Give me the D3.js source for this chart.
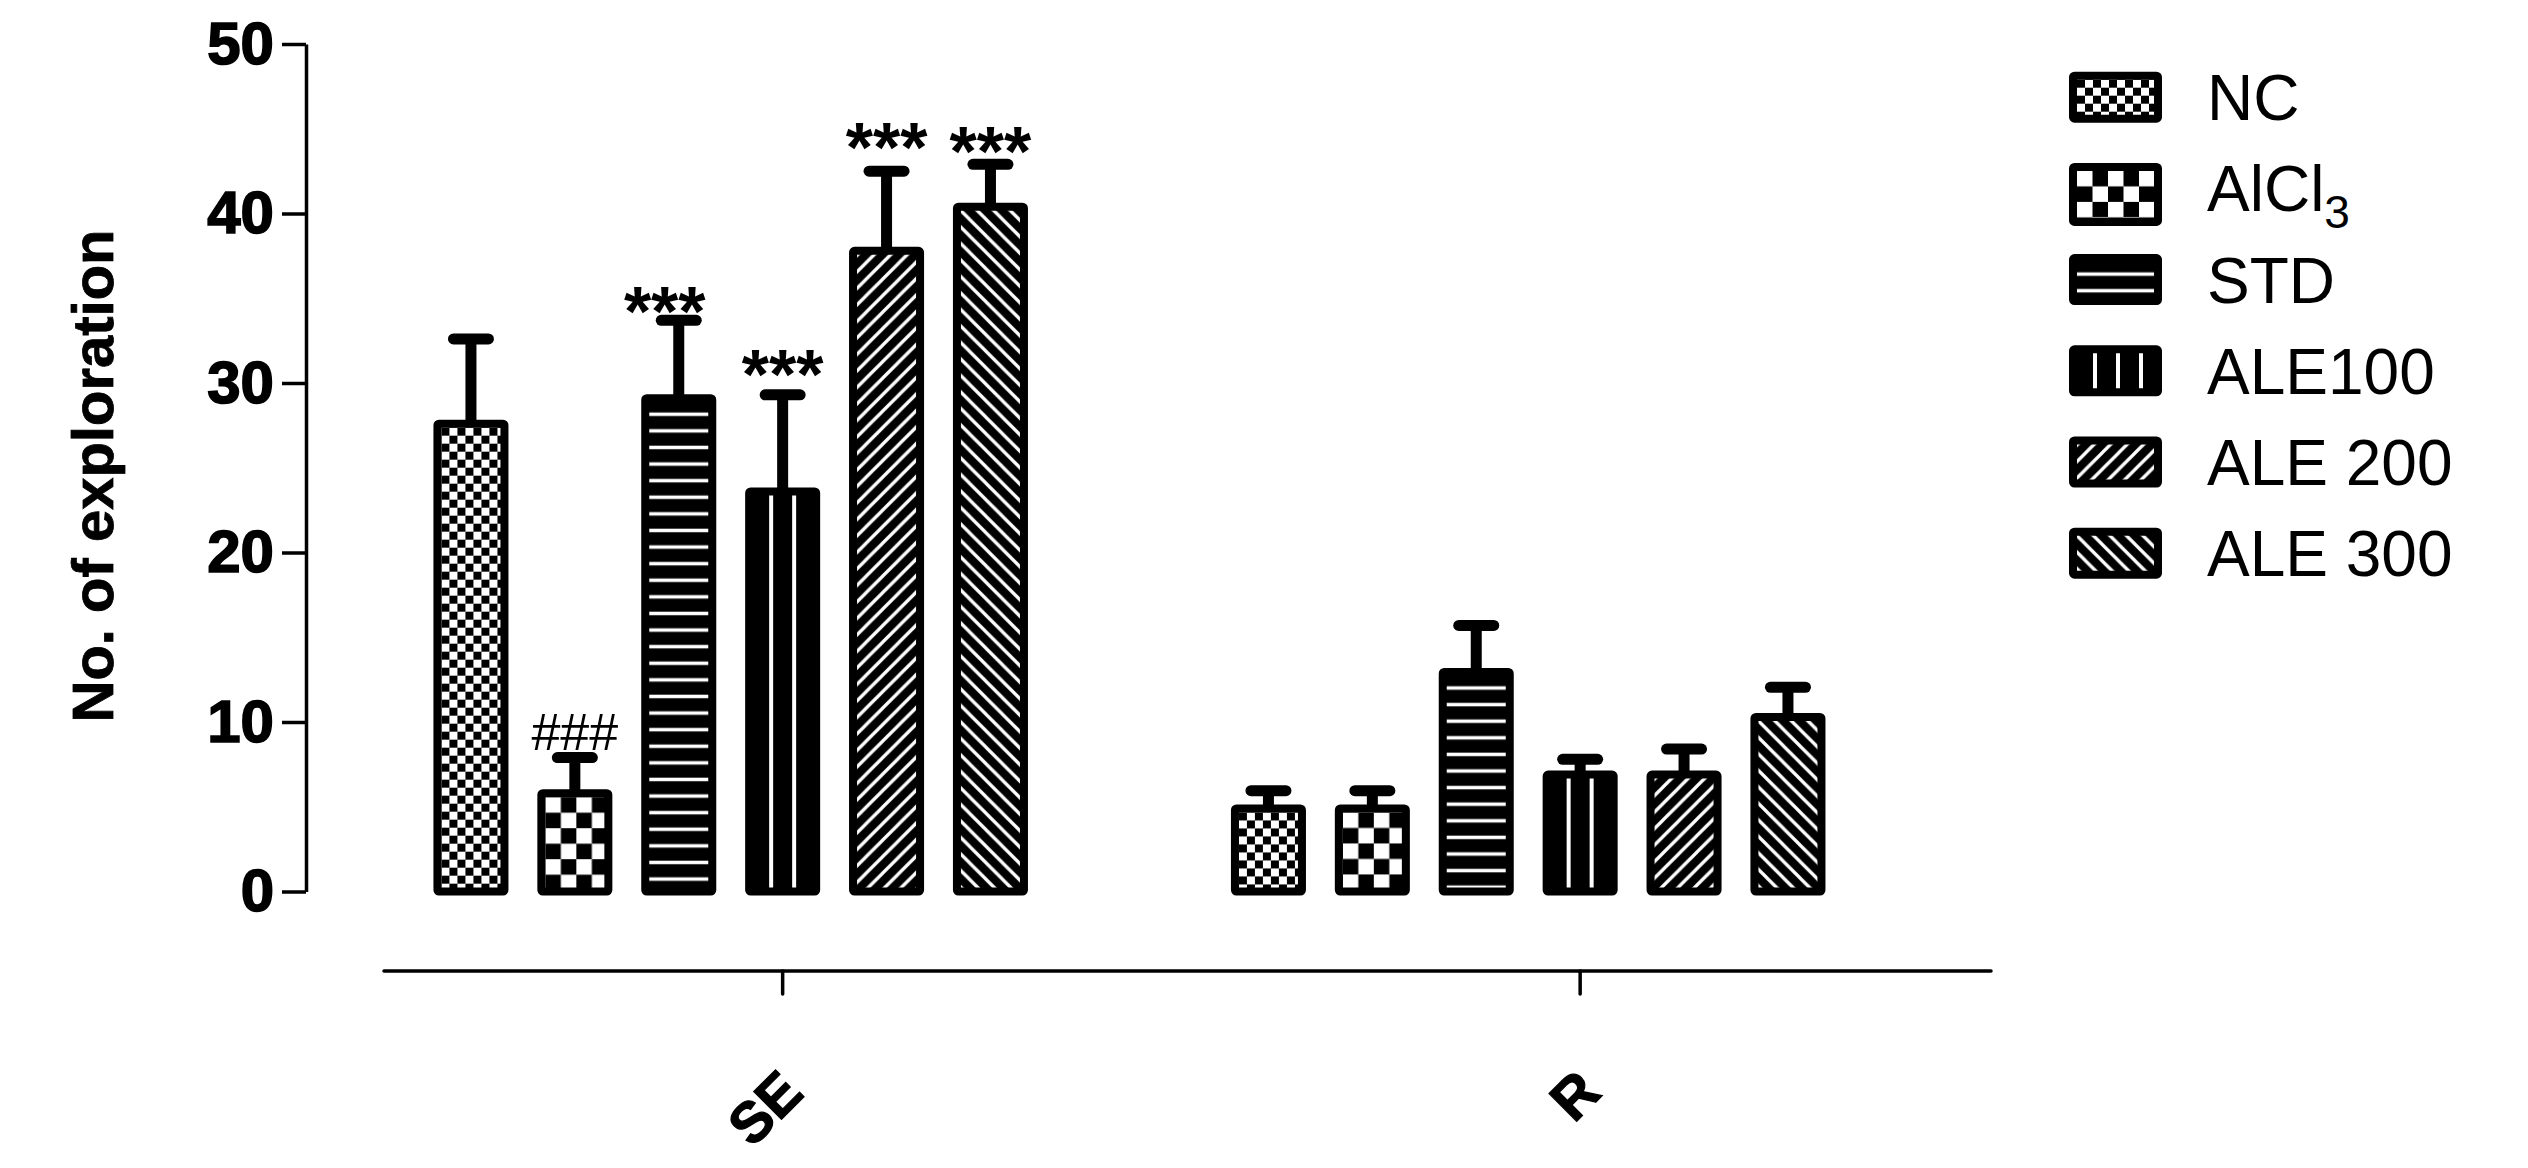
<!DOCTYPE html>
<html>
<head>
<meta charset="utf-8">
<script src="https://cdn.jsdelivr.net/npm/d3@7/dist/d3.min.js"></script>
<style>
  html, body { margin: 0; padding: 0; background: #fff; }
  svg { display: block; }
  text { font-family: "Liberation Sans", Arial, Helvetica, sans-serif; }
</style>
</head>
<body>
<svg id="chart" width="2528" height="1168"></svg>
<script>
// ---------------- DATA ----------------
const groups = ["SE", "R"];
const series = ["NC", "AlCl3", "STD", "ALE100", "ALE 200", "ALE 300"];
const seMeans = [27.6, 5.8, 29.1, 23.6, 37.8, 40.4];
const seErrTop = [32.6, 7.9, 33.7, 29.3, 42.5, 42.9];
const rMeans = [4.9, 4.9, 12.95, 6.9, 6.9, 10.3];
const rErrTop = [5.95, 5.95, 15.7, 7.8, 8.4, 12.05];
const yTicks = [0, 10, 20, 30, 40, 50];
const seAnnotText = ["", "###", "***", "***", "***", "***"];
const seAnnotLevel = [null, 8.35, 32.8, 29.05, 42.45, 42.2];
const yTitle = "No. of exploration";

// ---------------- LAYOUT ----------------
const W = 2528, H = 1168;
const svg = d3.select("#chart");
const yAxisX = 306;
const xAxisY = 971;
const xLineStart = 384, xLineEnd = 1991;
const barStroke = 8;
const annotDx = { "STD": -14 };

const values = { SE: seMeans, R: rMeans };
const errs = { SE: seErrTop, R: rErrTop };

const y = d3.scaleLinear().domain([0, 50]).range([891.5, 44]);
const xGroup = d3.scaleBand().domain(groups).range([419, 1839.9]).paddingInner(0.2183).paddingOuter(0);
const xInner = d3.scaleBand().domain(series).range([0, xGroup.bandwidth()]).paddingInner(0.355).paddingOuter(0.1775);
const bw = xInner.bandwidth();

// ---------------- PATTERNS ----------------
const defs = svg.append("defs");
let patCount = 0;
function makePattern(s, ox, oy) {
  const id = "pat" + (patCount++);
  const p = defs.append("pattern").attr("id", id).attr("patternUnits", "userSpaceOnUse");
  if (s === "NC") {
    const c = 8;
    p.attr("width", 2 * c).attr("height", 2 * c).attr("x", ox + 8).attr("y", oy + 8);
    p.append("rect").attr("width", 2 * c).attr("height", 2 * c).attr("fill", "#fff");
    p.append("rect").attr("x", 0).attr("y", 0).attr("width", c).attr("height", c).attr("fill", "#000");
    p.append("rect").attr("x", c).attr("y", c).attr("width", c).attr("height", c).attr("fill", "#000");
  } else if (s === "AlCl3") {
    const c = 15.5;
    p.attr("width", 2 * c).attr("height", 2 * c).attr("x", ox + 8).attr("y", oy + 8);
    p.append("rect").attr("width", 2 * c).attr("height", 2 * c).attr("fill", "#fff");
    p.append("rect").attr("x", c).attr("y", 0).attr("width", c).attr("height", c).attr("fill", "#000");
    p.append("rect").attr("x", 0).attr("y", c).attr("width", c).attr("height", c).attr("fill", "#000");
  } else if (s === "STD") {
    const P = 16.6;
    p.attr("width", 20).attr("height", P).attr("x", ox).attr("y", oy);
    p.append("rect").attr("width", 20).attr("height", P).attr("fill", "#000");
    p.append("rect").attr("x", 0).attr("y", 3.4 - 1.75).attr("width", 20).attr("height", 3.5).attr("fill", "#fff");
  } else if (s === "ALE100") {
    const P = 23;
    p.attr("width", P).attr("height", 20).attr("x", ox).attr("y", oy);
    p.append("rect").attr("width", P).attr("height", 20).attr("fill", "#000");
    p.append("rect").attr("x", 3 - 2).attr("y", 0).attr("width", 4).attr("height", 20).attr("fill", "#fff");
  } else {
    const P = 16.5;
    p.attr("width", P).attr("height", P).attr("x", ox).attr("y", oy);
    p.append("rect").attr("width", P).attr("height", P).attr("fill", "#000");
    const d = (s === "ALE 200")
      ? `M0,${P} L${P},0 M${-P},${P} L${P},${-P} M0,${2 * P} L${2 * P},0`
      : `M0,0 L${P},${P} M${-P},0 L${P},${2 * P} M0,${-P} L${2 * P},${P}`;
    p.append("path").attr("d", d).attr("stroke", "#fff").attr("stroke-width", 3.3).attr("fill", "none");
  }
  return id;
}

// ---------------- Y AXIS ----------------
const yAxis = d3.axisLeft(y).tickValues(yTicks).tickSize(24).tickPadding(8).tickSizeOuter(0);
const gy = svg.append("g").attr("transform", `translate(${yAxisX},0)`).call(yAxis);
gy.select(".domain").attr("stroke", "#000").attr("stroke-width", 3.5);
gy.selectAll(".tick line").attr("stroke", "#000").attr("stroke-width", 3.5);
gy.selectAll(".tick text").attr("font-size", 60).attr("font-weight", "bold").attr("fill", "#000")
  .attr("stroke", "#000").attr("stroke-width", 1.6)
  .attr("font-family", "Liberation Sans, Arial, sans-serif");

svg.append("text")
  .attr("transform", `translate(113,476) rotate(-90)`)
  .attr("text-anchor", "middle")
  .attr("font-size", 58).attr("font-weight", "bold").attr("fill", "#000")
  .attr("stroke", "#000").attr("stroke-width", 0.8)
  .text(yTitle);

// ---------------- X AXIS ----------------
const tickShift = xInner("ALE100") + bw / 2 - xGroup.bandwidth() / 2;
const xTick = xGroup.copy().range(xGroup.range().map(v => v + tickShift));
const xAxis = d3.axisBottom(xTick).tickSize(23).tickSizeOuter(0);
const gx = svg.append("g").attr("transform", `translate(0,${xAxisY})`).call(xAxis);
gx.select(".domain").remove();
gx.append("line").attr("x1", xLineStart).attr("x2", xLineEnd).attr("y1", 0).attr("y2", 0)
  .attr("stroke", "#000").attr("stroke-width", 3.5).attr("stroke-linecap", "round");
gx.selectAll(".tick line").attr("stroke", "#000").attr("stroke-width", 3.5).attr("stroke-linecap", "round");
gx.selectAll(".tick text")
  .attr("y", null).attr("dy", null)
  .attr("transform", "translate(23,124) rotate(-45)")
  .attr("text-anchor", "end")
  .attr("font-size", 57).attr("font-weight", "bold").attr("fill", "#000")
  .attr("stroke", "#000").attr("stroke-width", 1.2)
  .attr("font-family", "Liberation Sans, Arial, sans-serif");

// ---------------- BARS ----------------
const barData = [];
groups.forEach(g => series.forEach((s, i) => barData.push({ g, s, i, v: values[g][i], e: errs[g][i] })));

const gBars = svg.append("g");
// error bars (upper only)
gBars.selectAll(".stem").data(barData).join("line")
  .attr("x1", d => xGroup(d.g) + xInner(d.s) + bw / 2)
  .attr("x2", d => xGroup(d.g) + xInner(d.s) + bw / 2)
  .attr("y1", d => y(d.v)).attr("y2", d => y(d.e))
  .attr("stroke", "#000").attr("stroke-width", 11);
gBars.selectAll(".cap").data(barData).join("line")
  .attr("x1", d => xGroup(d.g) + xInner(d.s) + bw / 2 - 17.5)
  .attr("x2", d => xGroup(d.g) + xInner(d.s) + bw / 2 + 17.5)
  .attr("y1", d => y(d.e)).attr("y2", d => y(d.e))
  .attr("stroke", "#000").attr("stroke-width", 11).attr("stroke-linecap", "round");

gBars.selectAll(".bar").data(barData).join("rect")
  .attr("x", d => xGroup(d.g) + xInner(d.s))
  .attr("y", d => y(d.v))
  .attr("width", bw)
  .attr("height", d => y(0) - y(d.v))
  .attr("rx", 1.5)
  .attr("fill", d => `url(#${makePattern(d.s, xGroup(d.g) + xInner(d.s) - barStroke / 2, y(d.v) - barStroke / 2)})`)
  .attr("stroke", "#000").attr("stroke-width", barStroke).attr("stroke-linejoin", "round");

// ---------------- ANNOTATIONS ----------------
series.forEach((s, i) => {
  const t = seAnnotText[i];
  if (!t) return;
  const isHash = t.startsWith("#");
  svg.append("text")
    .attr("x", xGroup("SE") + xInner(s) + bw / 2 + (annotDx[s] || 0))
    .attr("y", y(seAnnotLevel[i]))
    .attr("text-anchor", "middle")
    .attr("font-size", isHash ? 52 : 70)
    .attr("font-weight", isHash ? "normal" : "bold")
    .attr("fill", "#000")
    .text(t);
});

// ---------------- LEGEND ----------------
const legX = 2069, legTop0 = 71.7, legPitch = 91.2, legW = 93;
const leg = svg.append("g");
series.forEach((s, i) => {
  const top = legTop0 + i * legPitch;
  const h = s === "AlCl3" ? 63 : 51;
  leg.append("rect")
    .attr("x", legX + barStroke / 2).attr("y", top + barStroke / 2)
    .attr("width", legW - barStroke).attr("height", h - barStroke)
    .attr("rx", 1.5)
    .attr("fill", `url(#${makePattern(s, legX, top)})`)
    .attr("stroke", "#000").attr("stroke-width", barStroke).attr("stroke-linejoin", "round");
  const t = leg.append("text")
    .attr("x", 2207).attr("y", top + 48.5)
    .attr("font-size", 64).attr("fill", "#000");
  if (s === "AlCl3") {
    t.append("tspan").text("AlCl");
    t.append("tspan").attr("font-size", 46).attr("dy", 17).text("3");
  } else {
    t.text(s);
  }
});
</script>
</body>
</html>
